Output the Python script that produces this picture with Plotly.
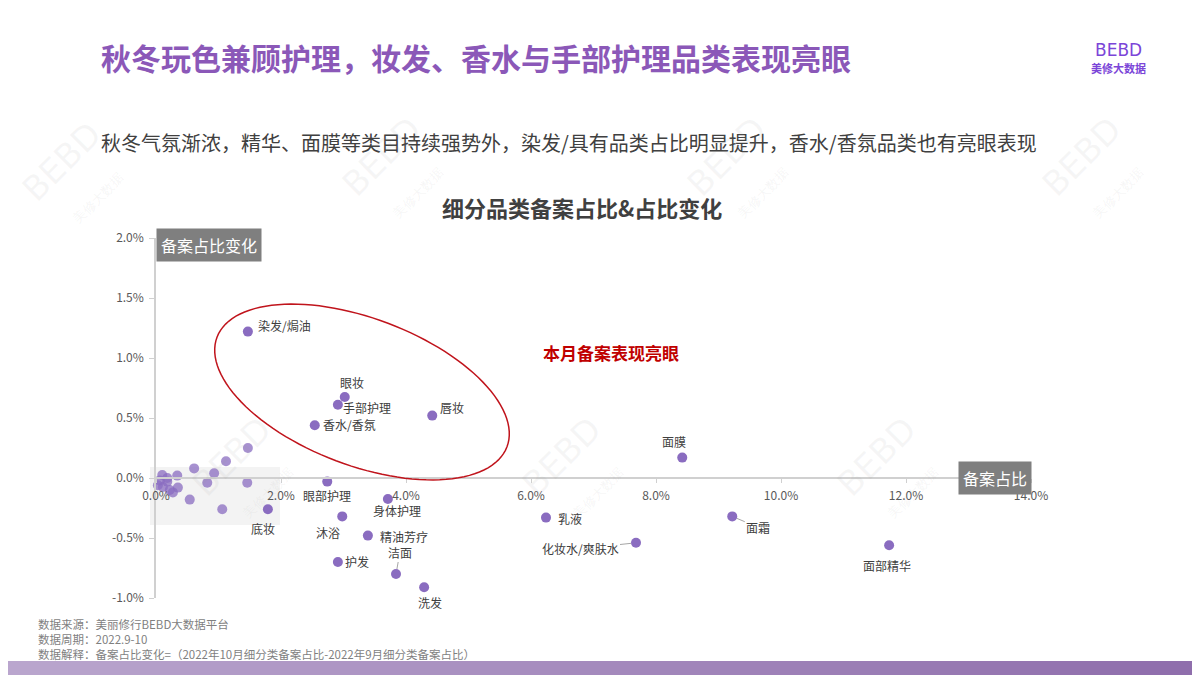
import math
import plotly.graph_objects as go

# ---------------- data ----------------
categories = ["染发/焗油", "眼妆", "手部护理", "香水/香氛", "唇妆", "面膜",
              "眼部护理", "身体护理", "沐浴", "精油芳疗", "护发", "洁面",
              "洗发", "底妆", "乳液", "化妆水/爽肤水", "面霜", "面部精华"]
share = [1.47, 3.02, 2.91, 2.54, 4.42, 8.42,
         2.74, 3.71, 2.98, 3.39, 2.91, 3.84,
         4.29, 1.79, 6.24, 7.68, 9.22, 11.73]
change = [1.22, 0.675, 0.61, 0.44, 0.52, 0.17,
          -0.03, -0.175, -0.32, -0.48, -0.70, -0.80,
          -0.91, -0.26, -0.33, -0.54, -0.32, -0.56]

# unlabelled small categories
other_share = [1.47, 1.12, 0.61, 0.93, 0.82, 1.46, 0.54, 1.06,
               0.10, 0.34, 0.03, 0.18, 0.22, 0.35, 0.27, 0.11, 0.18, 0.06]
other_change = [0.25, 0.14, 0.08, 0.04, -0.04, -0.04, -0.18, -0.26,
                0.025, 0.02, -0.06, -0.03, -0.10, -0.08, -0.12, -0.075, 0.0, -0.02]

x_ticks = [0, 2, 4, 6, 8, 10, 12, 14]
y_ticks = [-1.0, -0.5, 0.0, 0.5, 1.0, 1.5, 2.0]

# ---------------- styling ----------------
W, H = 1200, 675          # screen size
OFF = 8                   # browser body margin
L, R, T, B = 156, 169, 238, 77   # plot area in screen pixels
PW, PH = W - L - R, H - T - B
XR = [0, 14]
YR = [-1, 2]
MARK = "#8a6cc0"
LABEL = "#404040"
CJK = "Noto Sans CJK SC"


def px(xp):
    return (xp - L) / PW


def py(yp):
    return (H - B - yp) / PH


fig = go.Figure()

fig.add_trace(go.Scatter(x=other_share, y=other_change, mode="markers",
                         marker=dict(size=10, color=MARK, opacity=0.75, line=dict(width=0)),
                         cliponaxis=False, hoverinfo="skip", showlegend=False))
fig.add_trace(go.Scatter(x=share, y=change, mode="markers", text=categories,
                         marker=dict(size=10, color=MARK, line=dict(width=0)),
                         cliponaxis=False, showlegend=False))

annotations = []
shapes = []

# label placement (xanchor, dx px, dy px up)
label_pos = {
    "染发/焗油": ("left", 8, 6),
    "眼妆": ("center", 7, 15),
    "手部护理": ("left", 3, -3),
    "香水/香氛": ("left", 6, 1),
    "唇妆": ("left", 6, 8),
    "面膜": ("center", -8, 16),
    "眼部护理": ("center", 0, -14),
    "身体护理": ("center", 9, -11),
    "沐浴": ("center", -14, -16),
    "精油芳疗": ("left", 10, -1),
    "护发": ("left", 5, 1),
    "洗发": ("center", 6, -15),
    "底妆": ("center", -5, -19),
    "乳液": ("left", 10, -1),
    "面部精华": ("center", -2, -20),
}
leader_pos = {
    "洁面": (4, -22),
    "面霜": (26, 11),
    "化妆水/爽肤水": (-56, 6),
}
for name, xv, yv in zip(categories, share, change):
    if name in label_pos:
        xa, dx, dy = label_pos[name]
        annotations.append(dict(x=xv, y=yv, xref="x", yref="y", text=name,
                                showarrow=False, xanchor=xa, yanchor="middle",
                                xshift=dx, yshift=dy,
                                font=dict(family=CJK, size=12, color=LABEL)))
    elif name in leader_pos:
        ax, ay = leader_pos[name]
        annotations.append(dict(x=xv, y=yv, xref="x", yref="y", text=name,
                                showarrow=True, arrowhead=0, arrowwidth=1,
                                arrowcolor="#a6a6a6", ax=ax, ay=ay, standoff=5,
                                font=dict(family=CJK, size=12, color=LABEL)))

# grey highlight region near origin
shapes.append(dict(type="rect", xref="paper", yref="paper",
                   x0=px(150), x1=px(280), y0=py(525), y1=py(467),
                   fillcolor="rgba(220,220,220,0.35)", line=dict(width=0), layer="below"))

# red ellipse
cx, cy, ea, eb, th = 362, 392, 155, 73.5, math.radians(20.7)
pts = []
for i in range(121):
    t = 2 * math.pi * i / 120
    xx = cx + ea * math.cos(t) * math.cos(th) - eb * math.sin(t) * math.sin(th)
    yy = cy + ea * math.cos(t) * math.sin(th) + eb * math.sin(t) * math.cos(th)
    pts.append((px(xx), py(yy)))
path = "M " + " L ".join(f"{a:.5f},{b:.5f}" for a, b in pts) + " Z"
shapes.append(dict(type="path", xref="paper", yref="paper", path=path,
                   line=dict(color="#c0141c", width=1.5)))

annotations.append(dict(xref="paper", yref="paper", x=px(541), y=py(352),
                        text="<b>本月备案表现亮眼</b>", showarrow=False,
                        xanchor="left", yanchor="middle",
                        font=dict(family=CJK, size=17, color="#c00000")))

# axis title boxes
annotations.append(dict(xref="paper", yref="paper", x=px(209), y=py(245),
                        text="备案占比变化", showarrow=False, bgcolor="#7f7f7f",
                        xanchor="center", yanchor="middle",
                        borderpad=4, font=dict(family=CJK, size=16, color="white")))
annotations.append(dict(xref="paper", yref="paper", x=px(995), y=py(478),
                        text="备案占比", showarrow=False, bgcolor="#7f7f7f",
                        xanchor="center", yanchor="middle",
                        borderpad=4, font=dict(family=CJK, size=16, color="white")))

# titles
annotations.append(dict(xref="paper", yref="paper", x=px(99), y=py(57),
                        text="<b>秋冬玩色兼顾护理，妆发、香水与手部护理品类表现亮眼</b>",
                        showarrow=False, xanchor="left", yanchor="middle",
                        font=dict(family=CJK, size=30, color="#8b58b8")))
annotations.append(dict(xref="paper", yref="paper", x=px(99), y=py(142),
                        text="秋冬气氛渐浓，精华、面膜等类目持续强势外，染发/具有品类占比明显提升，香水/香氛品类也有亮眼表现",
                        showarrow=False, xanchor="left", yanchor="middle",
                        font=dict(family=CJK, size=20, color="#404040")))
annotations.append(dict(xref="paper", yref="paper", x=px(582), y=py(207),
                        text="<b>细分品类备案占比&占比变化</b>",
                        showarrow=False, xanchor="center", yanchor="middle",
                        font=dict(family=CJK, size=22, color="#404040")))

# logo
annotations.append(dict(xref="paper", yref="paper", x=px(1118), y=py(50),
                        text="BEBD", showarrow=False, xanchor="center", yanchor="middle",
                        font=dict(family="DejaVu Sans", size=17, color="#7b45d8")))
annotations.append(dict(xref="paper", yref="paper", x=px(1118), y=py(68),
                        text="<b>美修大数据</b>", showarrow=False, xanchor="center", yanchor="middle",
                        font=dict(family=CJK, size=11, color="#7b45d8")))

# watermarks
for (wx, wy) in [(75, 175), (395, 170), (740, 170), (1095, 170),
                 (245, 470), (575, 470), (890, 470)]:
    annotations.append(dict(xref="paper", yref="paper", x=px(wx), y=py(wy),
                            text="BEBD<br><span style='font-size:13px'>美修大数据</span>",
                            showarrow=False, textangle=-45,
                            xanchor="center", yanchor="middle",
                            font=dict(family="DejaVu Sans", size=34,
                                      color="rgba(150,150,150,0.09)")))

# footnotes
notes = ["数据来源：美丽修行BEBD大数据平台",
         "数据周期：2022.9-10",
         "数据解释：备案占比变化=（2022年10月细分类备案占比-2022年9月细分类备案占比）"]
annotations.append(dict(xref="paper", yref="paper", x=px(36), y=py(638.5),
                        text="<br>".join(notes), showarrow=False,
                        xanchor="left", yanchor="middle", align="left",
                        font=dict(family=CJK, size=11.5, color="#7f7f7f")))

# bottom gradient bar
N = 60
c0 = (186, 166, 206)
c1 = (143, 110, 172)
for i in range(N):
    f = i / (N - 1)
    col = tuple(int(c0[k] + (c1[k] - c0[k]) * f) for k in range(3))
    shapes.append(dict(type="rect", xref="paper", yref="paper",
                       x0=px(W * i / N), x1=px(W * (i + 1) / N + 1),
                       y0=py(676), y1=py(661),
                       fillcolor=f"rgb{col}", line=dict(width=0)))

fig.update_layout(
    width=W - OFF, height=H - OFF,
    margin=dict(l=L - OFF, r=R, t=T - OFF, b=B, pad=0),
    paper_bgcolor="white", plot_bgcolor="rgba(0,0,0,0)",
    annotations=annotations, shapes=shapes,
    font=dict(family=CJK),
    xaxis=dict(range=XR, tickvals=x_ticks,
               ticktext=[f"{v:.1f}%" for v in x_ticks],
               showgrid=False, zeroline=False,
               showline=True, linecolor="#d0d0d0", linewidth=1.5,
               ticks="outside", ticklen=4, tickcolor="#d0d0d0",
               ticklabelstandoff=3,
               anchor="free", position=(0 - YR[0]) / (YR[1] - YR[0]),
               tickfont=dict(family=CJK, size=12, color="#595959")),
    yaxis=dict(range=YR, tickvals=y_ticks,
               ticktext=[f"{v:.1f}%" for v in y_ticks],
               showgrid=False, zeroline=False,
               showline=True, linecolor="#d0d0d0", linewidth=1.5,
               ticks="outside", ticklen=5, tickcolor="#d0d0d0",
               ticklabelstandoff=3,
               tickfont=dict(family=CJK, size=12, color="#595959")),
)

fig.write_html("out.html")
